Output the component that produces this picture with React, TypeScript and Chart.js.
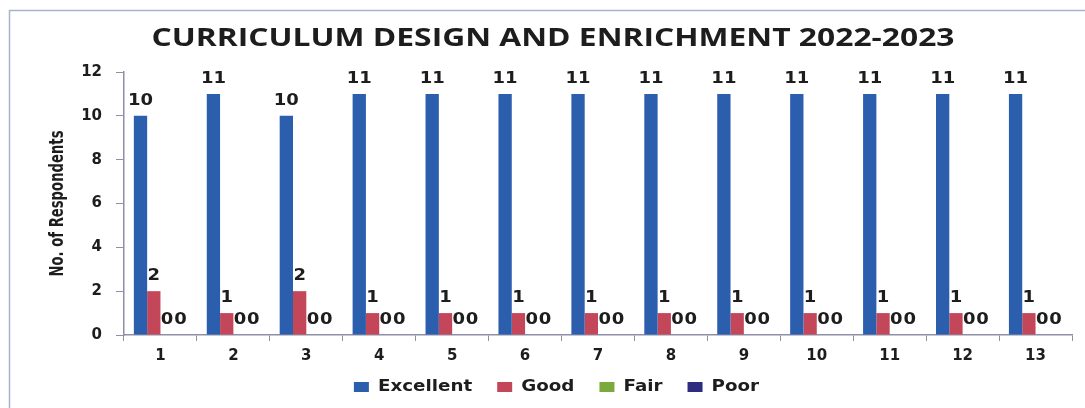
import { useEffect, useRef } from "react";
import { Chart, registerables } from "chart.js";

Chart.register(...registerables);

const TITLE = "CURRICULUM DESIGN AND ENRICHMENT 2022-2023";
const Y_TITLE = "No. of Respondents";
const CATEGORIES = ["1", "2", "3", "4", "5", "6", "7", "8", "9", "10", "11", "12", "13"];
const SERIES_LABELS = ["Excellent", "Good", "Fair", "Poor"];
const EXCELLENT = [10, 11, 10, 11, 11, 11, 11, 11, 11, 11, 11, 11, 11];
const GOOD = [2, 1, 2, 1, 1, 1, 1, 1, 1, 1, 1, 1, 1];
const FAIR = [0, 0, 0, 0, 0, 0, 0, 0, 0, 0, 0, 0, 0];
const POOR = [0, 0, 0, 0, 0, 0, 0, 0, 0, 0, 0, 0, 0];
const Y_MIN = 0;
const Y_MAX = 12;
const Y_STEP = 2;

const COLORS = ["#2c5eae", "#c44659", "#7aa93c", "#2d2c7f"];
const AXIS_COLOR = "#8f8fa8";
const TEXT_COLOR = "#1d1d1d";
const FONT = '"DejaVu Sans", Verdana, sans-serif';

function drawFitText(
  ctx: CanvasRenderingContext2D,
  text: string,
  cx: number,
  cy: number,
  font: string,
  targetWidth: number,
  rotate = 0
) {
  ctx.save();
  ctx.font = font;
  const w = ctx.measureText(text).width;
  const sx = targetWidth / w;
  ctx.translate(cx, cy);
  if (rotate) ctx.rotate(rotate);
  ctx.scale(sx, 1);
  ctx.textAlign = "center";
  ctx.textBaseline = "middle";
  ctx.fillStyle = TEXT_COLOR;
  ctx.fillText(text, 0, 0);
  ctx.restore();
}

const overlayPlugin = {
  id: "overlay",
  beforeDraw(chart: any) {
    const { ctx, width, height } = chart;
    ctx.save();
    ctx.fillStyle = "#ffffff";
    ctx.fillRect(0, 0, width, height);
    ctx.strokeStyle = "#a7b2cc";
    ctx.lineWidth = 1.5;
    ctx.strokeRect(9.5, 10.5, width + 40, height + 40);
    ctx.restore();
  },
  afterDatasetsDraw(chart: any) {
    const { ctx } = chart;
    ctx.save();
    ctx.font = `bold 15px ${FONT}`;
    ctx.fillStyle = TEXT_COLOR;
    ctx.textAlign = "center";
    ctx.textBaseline = "middle";
    chart.data.datasets.forEach((ds: any, di: number) => {
      const meta = chart.getDatasetMeta(di);
      meta.data.forEach((bar: any, i: number) => {
        const v = ds.data[i];
        ctx.save();
        ctx.translate(bar.x, bar.y - 15);
        ctx.scale(1.2, 1);
        ctx.fillText(String(v), 0, 0);
        ctx.restore();
      });
    });
    ctx.restore();
  },
  afterDraw(chart: any) {
    const { ctx, chartArea } = chart;
    // Title
    drawFitText(ctx, TITLE, 553, 39, `bold 25px "Open Sans", ${FONT}`, 803);
    // Y axis title
    drawFitText(
      ctx,
      Y_TITLE,
      58,
      (chartArea.top + chartArea.bottom) / 2,
      `bold 20px "Liberation Sans Narrow", "DejaVu Sans Condensed", "DejaVu Sans", sans-serif`,
      146,
      -Math.PI / 2
    );
    // Legend
    ctx.save();
    const font = `bold 15px ${FONT}`;
    ctx.font = font;
    const SX = 1.22;
    const boxW = 15;
    const boxH = 10;
    const gapBoxText = 9;
    const gapItems = 25;
    const items = chart.data.datasets.map((ds: any) => ({
      label: ds.label,
      color: ds.backgroundColor,
      w: ctx.measureText(ds.label).width * SX,
    }));
    const total =
      items.reduce((s: number, it: any) => s + boxW + gapBoxText + it.w, 0) +
      gapItems * (items.length - 1);
    let x = 556.5 - total / 2;
    const cy = 387;
    items.forEach((it: any) => {
      ctx.fillStyle = it.color;
      ctx.fillRect(x, cy - boxH / 2, boxW, boxH);
      x += boxW + gapBoxText;
      ctx.save();
      ctx.translate(x, cy);
      ctx.scale(SX, 1);
      ctx.fillStyle = TEXT_COLOR;
      ctx.textAlign = "left";
      ctx.textBaseline = "middle";
      ctx.fillText(it.label, 0, 0);
      ctx.restore();
      x += it.w + gapItems;
    });
    ctx.restore();
  },
};

export default function App() {
  const ref = useRef<HTMLCanvasElement | null>(null);

  useEffect(() => {
    document.body.style.margin = "0";
    const canvas = ref.current;
    if (!canvas) return;
    const seriesValues = [EXCELLENT, GOOD, FAIR, POOR];
    const chart = new Chart(canvas, {
      type: "bar",
      data: {
        labels: CATEGORIES,
        datasets: SERIES_LABELS.map((label, i) => ({
          label,
          data: seriesValues[i],
          backgroundColor: COLORS[i],
          borderWidth: 0,
          categoryPercentage: 0.73,
          barPercentage: 1,
        })),
      },
      options: {
        responsive: false,
        animation: false,
        devicePixelRatio: 1,
        layout: { padding: { top: 72, right: 13, left: 0, bottom: 0 } },
        plugins: {
          legend: { display: false },
          title: { display: false },
          tooltip: { enabled: false },
        },
        scales: {
          x: {
            afterFit: (scale: any) => {
              scale.height = 73;
            },
            grid: {
              offset: true,
              drawOnChartArea: false,
              drawTicks: true,
              tickLength: 6,
              color: AXIS_COLOR,
            },
            border: { display: true, color: AXIS_COLOR, width: 1.5 },
            ticks: {
              color: TEXT_COLOR,
              font: { family: FONT, size: 15, weight: "bold" },
              padding: 6,
              maxRotation: 0,
            },
          },
          y: {
            min: Y_MIN,
            max: Y_MAX,
            afterFit: (scale: any) => {
              scale.width = 124;
            },
            grid: {
              drawOnChartArea: false,
              drawTicks: true,
              tickLength: 8,
              color: AXIS_COLOR,
            },
            border: { display: true, color: AXIS_COLOR, width: 1.5 },
            ticks: {
              stepSize: Y_STEP,
              color: TEXT_COLOR,
              font: { family: FONT, size: 15, weight: "bold" },
              padding: 14,
            },
          },
        },
      },
      plugins: [overlayPlugin],
    });
    return () => chart.destroy();
  }, []);

  return (
    <div style={{ width: 1085, height: 408 }}>
      <canvas ref={ref} width={1085} height={408} style={{ display: "block" }} />
    </div>
  );
}
